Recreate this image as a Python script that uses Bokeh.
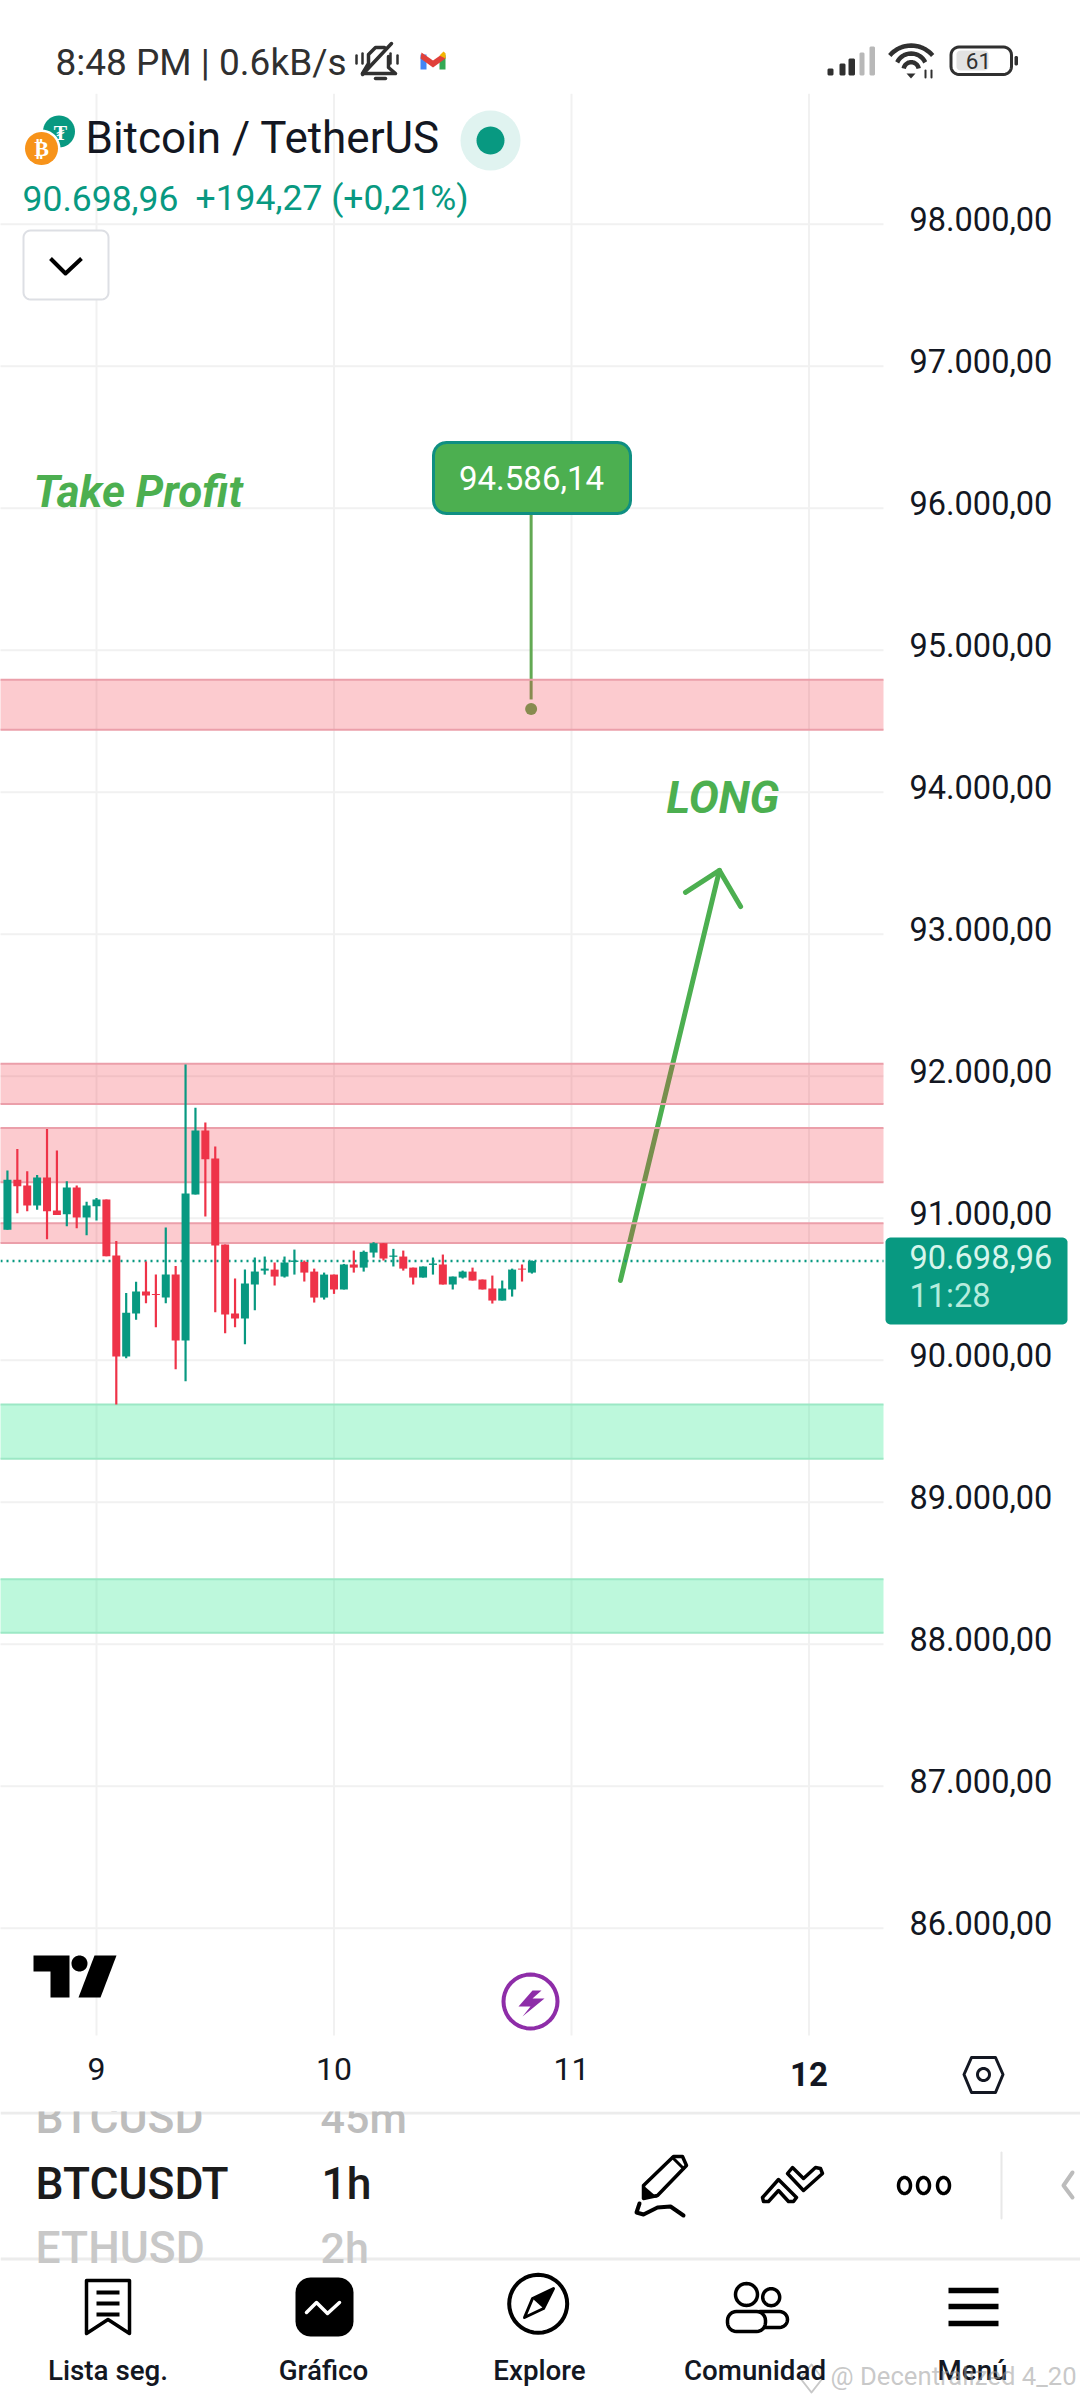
import math
from bokeh.embed import file_html
from bokeh.resources import INLINE
from bokeh.layouts import column
from bokeh.plotting import figure
from bokeh.models import (Range1d, LinearAxis, FixedTicker, Label)

# ---------- chart data ----------
hours = list(range(-9, 45))   # hours relative to the start of day 9
opens = [90918,91270,91230,91089,91286,91054,91028,91216,91005,91084,91131,90737,90026,90328,90483,90467,90441,90603,
         90138,91167,91617,91420,90814,90328,90293,90533,90631,90638,90589,90692,90692,90624,90441,90603,90498,90674,
         90652,90758,90824,90728,90730,90652,90582,90671,90674,90533,90582,90624,90568,90505,90420,90498,90645,90617]
closes = [91270,91225,91089,91286,91049,91023,91216,91005,91089,91131,90732,90026,90335,90483,90455,90460,90603,90138,
          91174,91617,91415,90807,90321,90293,90540,90624,90645,90589,90688,90702,90617,90441,90603,90498,90674,90652,
          90763,90824,90716,90737,90645,90582,90660,90681,90533,90589,90624,90561,90498,90420,90505,90638,90638,90698.96]
highs = [91336,91488,91331,91305,91629,91476,91260,91230,91115,91143,91131,90840,90474,90552,90695,90603,90934,90664,
         92082,91777,91674,91505,90814,90575,90638,90723,90730,90688,90730,90779,90702,90645,90617,90603,90678,90772,
         90772,90831,90824,90784,90772,90652,90660,90723,90744,90589,90631,90652,90568,90596,90561,90645,90674,90702]
lows = [90918,91035,91049,91059,90852,91023,90943,90929,90880,90983,90732,89688,90014,90284,90401,90232,90401,89937,
        89852,91167,91012,90338,90190,90232,90113,90352,90603,90526,90582,90603,90554,90406,90427,90467,90498,90617,
        90624,90723,90702,90660,90631,90533,90582,90603,90533,90498,90575,90561,90498,90399,90420,90448,90554,90610]
zone_tops = [94792, 92087, 91636, 90965, 89688, 88458]
zone_bottoms = [94439, 91805, 91253, 90826, 89306, 88080]
zone_kinds = ["sell", "sell", "sell", "sell", "buy", "buy"]
price_ticks = [86000, 87000, 88000, 89000, 90000, 91000, 92000, 93000, 94000, 95000, 96000, 97000, 98000]
day_ticks = [9, 10, 11, 12]
last_price = 90698.96
target_price = 94586.14
target_day = 10.83
arrow_days = [11.206, 11.623]
arrow_prices = [90561, 93449]
head_days = [11.48, 11.623, 11.712]
head_prices = [93294, 93449, 93195]

GREEN = "#089981"
RED = "#ee3348"
INK = "#131722"
DRAW = "#4caf50"
FONT = "Roboto"
MEDIUM = "Roboto Medium"
PAGE_W = 1080
BASE = 0.35  # a Label is centred on its y: distance from that centre to the baseline, in ems


def rr(x0, y0, x1, y1, r, n=6):
    xs, ys = [], []
    for cx, cy, a0 in [(x1 - r, y0 + r, -90), (x1 - r, y1 - r, 0), (x0 + r, y1 - r, 90), (x0 + r, y0 + r, 180)]:
        for i in range(n + 1):
            a = math.radians(a0 + 90 * i / n)
            xs.append(cx + r * math.cos(a))
            ys.append(cy + r * math.sin(a))
    return xs, ys


def ell(cx, cy, rx, ry=None, n=40, a0=0, a1=360):
    ry = rx if ry is None else ry
    xs = [cx + rx * math.cos(math.radians(a0 + (a1 - a0) * i / n)) for i in range(n + 1)]
    ys = [cy + ry * math.sin(math.radians(a0 + (a1 - a0) * i / n)) for i in range(n + 1)]
    return xs, ys


class Ink:
    """Pixel-placed interface furniture (not data)."""
    def __init__(self, fig, **ranges):
        self.f, self.r = fig, ranges

    def poly(self, pts, fill=None, line=None, lw=0):
        xs, ys = pts if isinstance(pts, tuple) else zip(*pts)
        self.f.patch(list(xs), list(ys), fill_color=fill, fill_alpha=1 if fill else 0,
                     line_color=line, line_width=lw, line_alpha=1 if line else 0, line_join="round", **self.r)

    def line(self, pts, color, lw, cap="round"):
        xs, ys = pts if isinstance(pts, tuple) else zip(*pts)
        self.f.line(list(xs), list(ys), line_color=color, line_width=lw, line_cap=cap, line_join="round", **self.r)

    def text(self, x, y, s, size, color=INK, style="normal", align="left", alpha=1.0, font=FONT):
        self.f.add_layout(Label(x=x, y=y - BASE * size, text=s, text_font=font, text_font_size=f"{size}px",
                                text_color=color, text_font_style=style, text_align=align,
                                text_baseline="alphabetic", text_alpha=alpha, **self.r))


def bare(fig):
    fig.min_border = 0
    fig.outline_line_color = None
    fig.background_fill_color = "white"
    fig.border_fill_color = "white"
    fig.frame_align = False
    return fig


# ---------- status bar ----------
top = bare(figure(width=PAGE_W, height=93, x_range=Range1d(0, 1080), y_range=Range1d(93, 0),
                  toolbar_location=None, output_backend="svg", x_axis_location=None, y_axis_location=None))
top.grid.visible = False
t = Ink(top)
S = "#303030"
t.text(55, 75, "8:48 PM | 0.6kB/s", 37, S)
# muted bell
t.line([(362, 73), (368, 63), (368, 54), (375, 47), (384, 47)], S, 3.5)
t.line([(388, 56), (388, 67), (395, 73), (362, 73)], S, 3.5)
t.line([(375, 78), (385, 78)], S, 3.5)
t.line([(362, 74), (391, 43)], S, 3.5)
for sx, sy0, sy1 in [(356, 55, 63), (362, 53, 63), (390, 53, 63), (397, 55, 63)]:
    t.line([(sx, sy0), (sx, sy1)], S, 2.5)
# mail
t.poly([(420, 54), (426, 54), (426, 69), (420, 69)], "#4285f4")
t.poly([(439, 57), (445, 54), (445, 69), (439, 69)], "#34a853")
t.poly([(421, 52), (432.5, 60), (444, 52), (445, 58), (432.5, 67), (420, 58)], "#e0403a")
t.poly([(439, 55), (443, 51), (445, 53), (445, 58)], "#f4b400")
# signal
for bx0, bx1, by, col in [(827, 833, 68, S), (839, 845, 63, S), (848, 854.5, 58, S), (859, 864, 52, "#b8b8b8"), (869, 874.5, 46, "#b8b8b8")]:
    t.poly(rr(bx0, by, bx1, 75, 1.5), col)
# wifi
for rad, cy, half in [(28, 73, 50), (15.6, 68.6, 64), (7.6, 69.3, 80)]:
    t.line(ell(910.7, cy, rad, n=16, a0=-90 - half, a1=-90 + half), S, 4.5, "butt")
t.poly([(906, 73), (915, 73), (910.5, 78)], S)
t.line([(925, 70), (925, 77)], S, 2)
t.line([(931, 70), (931, 77)], S, 2)
# battery
t.poly(rr(956, 50, 988, 70, 4), "#e2e2e2")
t.poly(rr(950.5, 46.5, 1011, 74, 8), None, S, 3)
t.poly(rr(1014, 55.5, 1017.5, 65, 1.5), S)
t.text(978, 68, "61", 22.5, S, align="center")

# ---------- chart ----------
# The frame fills the whole canvas; the two axes are pinned with fixed_location so that they take no side panel.
X0, X1, Y0, Y1 = 0.0, 1080.0, 93.0, 2111.0
PANE_R, PANE_B = 883.0, 2035.0
PX_DAY, PX_PRICE = 237.5, 0.142
day_of = lambda px: 9 + (px - 96) / PX_DAY
price_of = lambda py: 98000 - (py - 223.7) / PX_PRICE

p = bare(figure(width=PAGE_W, height=2018, x_range=Range1d(day_of(X0), day_of(X1)),
                y_range=Range1d(price_of(Y1), price_of(Y0)), x_axis_location=None, y_axis_location=None,
                toolbar_location=None, output_backend="svg"))
p.grid.visible = False
p.extra_x_ranges["px"] = Range1d(X0, X1)
p.extra_y_ranges["px"] = Range1d(Y1, Y0)
LABEL_SHIFT = 5 / PX_PRICE
p.extra_y_ranges["labels"] = Range1d(price_of(Y1) - LABEL_SHIFT, price_of(Y0) - LABEL_SHIFT)

fmt = lambda v: f"{v:,.2f}".replace(",", "_").replace(".", ",").replace("_", ".")
price_axis = LinearAxis(y_range_name="labels", ticker=FixedTicker(ticks=price_ticks), fixed_location=day_of(PANE_R),
                        major_label_overrides={v: fmt(v) for v in price_ticks},
                        axis_line_color=None, major_tick_line_color=None, minor_tick_line_color=None,
                        major_tick_out=0, major_tick_in=0, minor_tick_out=0, major_label_standoff=26,
                        major_label_text_font=FONT, major_label_text_font_size="32.5px",
                        major_label_text_color=INK)
p.add_layout(price_axis, "right")
date_axis = LinearAxis(ticker=FixedTicker(ticks=[d for d in day_ticks if d != 12]), fixed_location=price_of(PANE_B),
                       major_label_overrides={d: str(d) for d in day_ticks},
                       axis_line_color=None, major_tick_line_color=None, minor_tick_line_color=None,
                       major_tick_out=0, major_tick_in=0, minor_tick_out=0, major_label_standoff=22,
                       major_label_text_font=FONT, major_label_text_font_size="32px",
                       major_label_text_color=INK)
p.add_layout(date_axis, "below")

xs_day = [9 + h / 24 for h in hours]
xl, xr = day_of(X0 - 6), day_of(PANE_R)
yb, yt = price_of(PANE_B), price_of(Y0)
GRID = "#f1f1f1"
p.segment([xl] * len(price_ticks), price_ticks, [xr] * len(price_ticks), price_ticks, line_color=GRID, line_width=2)
p.segment(day_ticks, [yb] * len(day_ticks), day_ticks, [yt] * len(day_ticks), line_color=GRID, line_width=2)

# drawings that sit under the zones
p.line(arrow_days, arrow_prices, line_color=DRAW, line_width=5, line_cap="round")
p.line(head_days, head_prices, line_color=DRAW, line_width=5, line_cap="round", line_join="round")
p.segment([target_day], [price_of(513)], [target_day], [target_price + 67], line_color="#62a953", line_width=3)
p.scatter([target_day], [target_price], size=12, fill_color="#62a953", line_color=None)
p.segment([xl], [last_price], [xr], [last_price], line_color=GREEN, line_width=2.6, line_dash="2 4")

# zones
z_fill = {"sell": ("#f23645", 0.26), "buy": ("#42eb9b", 0.35)}
z_edge = {"sell": "#eb9faa", "buy": "#9ce8c5"}
n_z = len(zone_tops)
p.quad(left=[xl] * n_z, right=[xr] * n_z, top=zone_tops, bottom=zone_bottoms,
       fill_color=[z_fill[k][0] for k in zone_kinds], fill_alpha=[z_fill[k][1] for k in zone_kinds], line_color=None)
edge_colors = [z_edge[k] for k in zone_kinds]
p.segment([xl] * n_z, zone_tops, [xr] * n_z, zone_tops, line_color=edge_colors, line_width=2)
p.segment([xl] * n_z, zone_bottoms, [xr] * n_z, zone_bottoms, line_color=edge_colors, line_width=2)

# candles
colors = [GREEN if c >= o else RED for o, c in zip(opens, closes)]
p.segment(xs_day, highs, xs_day, lows, line_color=colors, line_width=2.2)
p.vbar(x=xs_day, width=8 / PX_DAY, top=[max(a, b) for a, b in zip(opens, closes)],
       bottom=[min(a, b) for a, b in zip(opens, closes)], fill_color=colors, line_color=None)

ck = Ink(p, x_range_name="px", y_range_name="px")
# header block
ck.poly(ell(58.5, 131, 16), GREEN)
ck.text(60, 139, "₮", 20, "white", "bold", "center")
ck.poly(ell(41, 148, 19), "white")
ck.poly(ell(41, 148, 16.5), "#f7931a")
ck.text(41, 156, "₿", 22, "white", "bold", "center")
ck.text(85, 153, "Bitcoin / TetherUS", 44, INK)
ck.poly(ell(490, 140, 30), "#e0f3f0")
ck.poly(ell(490, 140, 14), GREEN)
ck.text(22, 210, "90.698,96", 35.5, GREEN)
ck.text(195, 210, "+194,27 (+0,21%)", 35.5, GREEN)
ck.poly(rr(23, 230, 108, 299, 7), "white", "#dddfe4", 2)
ck.line([(50, 258), (65, 273), (81, 258)], "#000000", 4, "butt")
# drawing texts
ck.text(33, 507, "Take Profit", 44, DRAW, "bold italic")
ck.text(666, 813, "LONG", 45, DRAW, "bold italic")
ck.poly(rr(433, 442, 630, 513, 13), DRAW, "#0f8f82", 3)
ck.text(531, 489, fmt(target_price), 33, "white", align="center")
# logo + bolt
ck.poly([(33, 1955), (69, 1955), (69, 1997), (50, 1997), (50, 1971), (33, 1971)], "#000000")
ck.poly(ell(79, 1963, 8), "#000000")
ck.poly([(94, 1955), (116, 1955), (100, 1997), (78, 1997)], "#000000")
ck.poly(ell(530, 2001, 27), None, "#8e2da8", 4)
ck.poly([(532, 1990), (518, 2006), (530, 2006), (522, 2016), (544, 1998), (532, 1998), (541, 1990)], "#8e2da8")
# last price tag, the bolder "12" and the settings hexagon
ck.poly(rr(885, 1237, 1067, 1324, 5), GREEN)
ck.text(909, 1268, fmt(last_price), 32.5, "#d6f5ec")
ck.text(909, 1307, "11:28", 32.5, "#b5ecdd")
ck.text(808.5, 2085, "12", 33, INK, "bold", "center")
ck.poly([(971, 2057), (995, 2057), (1002.5, 2074), (995, 2092), (971, 2092), (963.5, 2074)], None, INK, 3)
ck.poly(ell(983, 2074, 6), None, INK, 3)

# ---------- bottom bars ----------
bot = bare(figure(width=PAGE_W, height=289, x_range=Range1d(0, 1080), y_range=Range1d(2400, 2111),
                  toolbar_location=None, output_backend="svg", x_axis_location=None, y_axis_location=None))
bot.grid.visible = False
b = Ink(bot)
b.text(35, 2133, "BTCUSD", 44.5, "#bdbdbd", font=MEDIUM)
b.text(320, 2133, "45m", 43, "#bdbdbd", font=MEDIUM)
b.text(35, 2263, "ETHUSD", 44.5, "#c8c8c8", font=MEDIUM)
b.text(320, 2263, "2h", 43, "#c8c8c8", font=MEDIUM)
b.text(35, 2199, "BTCUSDT", 44.5, "#1b1b1b", font=MEDIUM)
b.text(321, 2199, "1h", 44.5, "#1b1b1b", font=MEDIUM)
b.poly([(0, 2111), (1080, 2111), (1080, 2114), (0, 2114)], "#ececec")
b.poly([(0, 2258), (1080, 2258), (1080, 2400), (0, 2400)], "white")
b.poly([(0, 2257), (1080, 2257), (1080, 2260), (0, 2260)], "#ececec")
# pencil
b.poly([(643, 2185), (673, 2156), (682, 2156), (686, 2165), (657, 2195), (643, 2198)], None, "#000000", 3.5)
b.poly([(643, 2185), (643, 2198), (657, 2197)], "#000000")
b.line([(672, 2157), (683, 2168)], "#000000", 3)
b.line([(639, 2203), (636, 2212), (643, 2214), (657, 2207), (670, 2206), (683, 2215)], "#000000", 4)
# lines tool
b.poly([(762, 2197), (778, 2179), (796, 2197), (793, 2201), (788, 2201), (778, 2190), (768, 2201), (763, 2201)], None, "#000000", 3.5)
b.poly([(787, 2173), (792, 2167), (803, 2178), (815, 2167), (820, 2168), (822, 2173), (803, 2190)], None, "#000000", 3.5)
# dots
for cx in (904, 923, 943):
    b.poly(ell(cx, 2185, 6, 8), None, "#000000", 3.5)
b.line([(1001, 2152), (1001, 2218)], "#e8e8e8", 2)
b.line([(1072, 2172), (1063, 2185), (1072, 2197)], "#bcbcbc", 4)
# nav icons
b.poly([(86, 2280), (129, 2280), (129, 2333), (107.5, 2319), (86, 2333)], None, "#000000", 3.5)
for ly in (2292, 2303, 2314):
    b.line([(96, ly), (119, ly)], "#000000", 4, "butt")
b.poly(rr(295, 2277, 353, 2336, 15), "#000000")
b.line([(306, 2312), (316, 2302), (327, 2313), (339, 2302)], "white", 3.5)
b.poly(ell(537.7, 2303.3, 29), None, "#000000", 4)
b.poly([(553, 2288), (532, 2298), (524, 2317), (543, 2308)], None, "#000000", 3)
b.poly([(553, 2288), (532, 2298), (543, 2308)], "#000000")
b.poly(ell(746, 2294, 11), None, "#000000", 3.5)
b.poly(ell(770.7, 2296.7, 8.5), None, "#000000", 3.5)
b.poly(rr(752, 2311, 787, 2327, 8), None, "#000000", 3.5)
b.poly(rr(727, 2311, 765, 2331, 9), "white", "#000000", 3.5)
for ly in (2290, 2306, 2323):
    b.line([(948, ly), (998, ly)], "#000000", 5.5, "butt")
for cx, s in [(107.5, "Lista seg."), (323, "Gráfico"), (539, "Explore"), (754.5, "Comunidad"), (972, "Menú")]:
    b.text(cx, 2380, s, 27.7, INK, align="center", font=MEDIUM)
b.text(830, 2384, "@ Decentralized 4_20", 25.7, "#9b9b9b", alpha=0.55)
b.poly([(811, 2364), (822, 2378), (811, 2392), (800, 2378)], None, "#c8c8c8", 2)

page = column(top, p, bot, spacing=0)
open("out.html", "w").write(file_html(page, INLINE))
